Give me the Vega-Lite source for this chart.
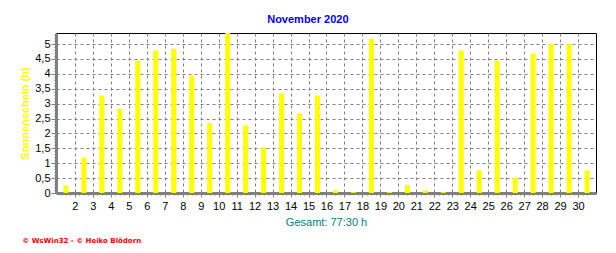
{
  "$schema": "https://vega.github.io/schema/vega-lite/v6.json",
  "padding": {"left": 19, "top": 13, "right": 0, "bottom": 0},
  "background": "white",
  "title": {"text": "© WsWin32 - © Heiko Blödorn", "orient": "bottom", "anchor": "start", "color": "#FF0000", "fontSize": 7, "fontWeight": "bold", "font": "DejaVu Sans", "offset": 9, "dx": 3},
  "vconcat": [
    {
      "title": {"text": "November 2020", "anchor": "middle", "frame": "bounds", "color": "#0000FF", "fontSize": 11, "fontWeight": "bold", "font": "Liberation Sans", "offset": 4},
      "width": 540,
      "height": 160,
      "data": {"values": [
        {"day": 1, "sun": 0.25}, {"day": 2, "sun": 1.19}, {"day": 3, "sun": 3.27}, {"day": 4, "sun": 2.83},
        {"day": 5, "sun": 4.44}, {"day": 6, "sun": 4.78}, {"day": 7, "sun": 4.84}, {"day": 8, "sun": 3.94},
        {"day": 9, "sun": 2.35}, {"day": 10, "sun": 5.4}, {"day": 11, "sun": 2.27}, {"day": 12, "sun": 1.53},
        {"day": 13, "sun": 3.34}, {"day": 14, "sun": 2.67}, {"day": 15, "sun": 3.27}, {"day": 16, "sun": 0.09},
        {"day": 17, "sun": 0.03}, {"day": 18, "sun": 5.18}, {"day": 19, "sun": 0.03}, {"day": 20, "sun": 0.27},
        {"day": 21, "sun": 0.09}, {"day": 22, "sun": 0.03}, {"day": 23, "sun": 4.78}, {"day": 24, "sun": 0.76},
        {"day": 25, "sun": 4.44}, {"day": 26, "sun": 0.52}, {"day": 27, "sun": 4.68}, {"day": 28, "sun": 5.01},
        {"day": 29, "sun": 5.01}, {"day": 30, "sun": 0.76}
      ]},
      "mark": {"type": "bar", "color": "#FFFF00", "width": 5, "clip": true},
      "encoding": {
        "x": {
          "field": "day", "type": "quantitative",
          "scale": {"domain": [0.726, 30.22], "nice": false, "zero": false},
          "axis": {
            "title": "Gesamt: 77:30 h",
            "titleColor": "#008080", "titleFontSize": 11, "titleFontWeight": "normal", "titleFont": "Liberation Sans", "titlePadding": 5,
            "values": [0.75,1,1.25,1.5,1.75,2,2.25,2.5,2.75,3,3.25,3.5,3.75,4,4.25,4.5,4.75,5,5.25,5.5,5.75,6,6.25,6.5,6.75,7,7.25,7.5,7.75,8,8.25,8.5,8.75,9,9.25,9.5,9.75,10,10.25,10.5,10.75,11,11.25,11.5,11.75,12,12.25,12.5,12.75,13,13.25,13.5,13.75,14,14.25,14.5,14.75,15,15.25,15.5,15.75,16,16.25,16.5,16.75,17,17.25,17.5,17.75,18,18.25,18.5,18.75,19,19.25,19.5,19.75,20,20.25,20.5,20.75,21,21.25,21.5,21.75,22,22.25,22.5,22.75,23,23.25,23.5,23.75,24,24.25,24.5,24.75,25,25.25,25.5,25.75,26,26.25,26.5,26.75,27,27.25,27.5,27.75,28,28.25,28.5,28.75,29,29.25,29.5,29.75,30],
            "labelExpr": "abs(datum.value - floor(datum.value) - 0.5) < 0.01 ? toString(datum.value + 0.5) : ''",
            "labelOverlap": false, "labelFlush": false,
            "labelColor": "#000000", "labelFontSize": 11, "labelFont": "Liberation Sans", "labelPadding": 3,
            "tickColor": "#808080",
            "tickSize": {"condition": {"test": "abs(datum.value - floor(datum.value) - 0.5) < 0.01", "value": 4}, "value": 2},
            "domainColor": "#808080", "domainWidth": 3,
            "grid": true, "gridColor": "#808080", "gridDash": [3, 3],
            "gridOpacity": {"condition": {"test": "abs(datum.value - floor(datum.value) - 0.5) < 0.01", "value": 1}, "value": 0}
          }
        },
        "y": {
          "field": "sun", "type": "quantitative",
          "scale": {"domain": [0, 5.37], "nice": false},
          "axis": {
            "title": "Sonnenschein  (h)",
            "titleColor": "#FFFF00", "titleFontSize": 11, "titleFontWeight": "bold", "titleFont": "Liberation Sans", "titlePadding": 4,
            "values": [0,0.1,0.2,0.3,0.4,0.5,0.6,0.7,0.8,0.9,1,1.1,1.2,1.3,1.4,1.5,1.6,1.7,1.8,1.9,2,2.1,2.2,2.3,2.4,2.5,2.6,2.7,2.8,2.9,3,3.1,3.2,3.3,3.4,3.5,3.6,3.7,3.8,3.9,4,4.1,4.2,4.3,4.4,4.5,4.6,4.7,4.8,4.9,5,5.1,5.2,5.3],
            "labelExpr": "abs(datum.value*2 - round(datum.value*2)) < 0.01 ? replace(toString(datum.value), '.', ',') : ''",
            "labelOverlap": false, "labelFlush": false,
            "labelColor": "#000000", "labelFontSize": 11, "labelFont": "Liberation Sans", "labelPadding": 1,
            "tickColor": "#808080",
            "tickSize": {"condition": {"test": "abs(datum.value*2 - round(datum.value*2)) < 0.01", "value": 5}, "value": 2},
            "domainColor": "#808080", "domainWidth": 3,
            "grid": true, "gridColor": "#808080", "gridDash": [3, 3],
            "gridOpacity": {"condition": {"test": "abs(datum.value*2 - round(datum.value*2)) < 0.01 && datum.value > 0", "value": 1}, "value": 0}
          }
        }
      }
    }
  ],
  "config": {
    "view": {"stroke": "#000000", "strokeWidth": 1},
    "font": "Liberation Sans"
  }
}
